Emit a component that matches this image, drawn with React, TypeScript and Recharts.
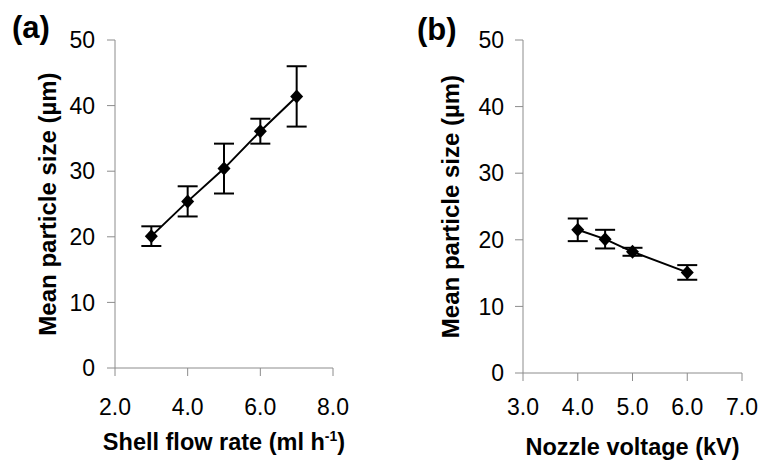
import { LineChart, Line, XAxis, YAxis, ErrorBar, Label } from "recharts";

const FONT = "'Liberation Sans', Arial, sans-serif";

// (a) shell flow rate
const flowRate = [3, 4, 5, 6, 7];
const flowSize = [20.1, 25.4, 30.4, 36.1, 41.4];
const flowErr = [1.5, 2.3, 3.8, 1.9, 4.6];
const flowTicks = [2, 4, 6, 8];

// (b) nozzle voltage
const voltage = [4.0, 4.5, 5.0, 6.0];
const voltSize = [21.5, 20.1, 18.2, 15.1];
const voltErr = [1.7, 1.4, 0.6, 1.1];
const voltTicks = [3, 4, 5, 6, 7];

const sizeTicks = [0, 10, 20, 30, 40, 50];

const flowData = flowRate.map((x, i) => ({ x, y: flowSize[i], err: flowErr[i] }));
const voltData = voltage.map((x, i) => ({ x, y: voltSize[i], err: voltErr[i] }));

const AXIS = "#8c8c8c";

function Diamond(props: any) {
  const { cx, cy, index } = props;
  if (cx == null || cy == null) return null;
  return (
    <path
      key={`d-${index}`}
      d={`M${cx},${cy - 7}L${cx + 6.5},${cy}L${cx},${cy + 7}L${cx - 6.5},${cy}Z`}
      fill="#000"
    />
  );
}

function XTitle({ viewBox, text, sup }: any) {
  const cx = viewBox.x + viewBox.width / 2;
  return (
    <text
      x={cx}
      y={viewBox.y + 82}
      textAnchor="middle"
      fontFamily={FONT}
      fontWeight="bold"
      fontSize={23.5}
      fill="#000"
    >
      {text}
      {sup && (
        <>
          <tspan dy={-9} fontSize={14}>{sup}</tspan>
          <tspan dy={9}>)</tspan>
        </>
      )}
    </text>
  );
}

function Panel({
  data,
  ticks,
  domain,
  margin,
  xMargin,
  yMargin,
  titleOffset,
  xText,
  xSup,
}: any) {
  return (
    <LineChart width={margin.w} height={464} data={data} margin={margin.m}>
      <XAxis
        type="number"
        dataKey="x"
        domain={domain}
        ticks={ticks}
        tickFormatter={(v: number) => v.toFixed(1)}
        height={60}
        tickSize={8}
        tickMargin={xMargin}
        axisLine={{ stroke: AXIS }}
        tickLine={{ stroke: AXIS }}
        tick={{ fill: "#000", fontSize: 23, fontFamily: FONT }}
      >
        <Label content={(p: any) => <XTitle viewBox={p.viewBox} text={xText} sup={xSup} />} />
      </XAxis>
      <YAxis
        type="number"
        domain={[0, 50]}
        ticks={sizeTicks}
        width={70}
        tickSize={8}
        tickMargin={yMargin}
        axisLine={{ stroke: AXIS }}
        tickLine={{ stroke: AXIS }}
        tick={{ fill: "#000", fontSize: 23, fontFamily: FONT }}
      >
        <Label
          value="Mean particle size (µm)"
          angle={-90}
          position="insideLeft"
          offset={titleOffset}
          style={{ textAnchor: "middle", fontFamily: FONT, fontWeight: "bold", fontSize: 24, fill: "#000" }}
        />
      </YAxis>
      <Line
        dataKey="y"
        stroke="#000"
        strokeWidth={2}
        dot={Diamond}
        activeDot={false}
        isAnimationActive={false}
      >
        <ErrorBar dataKey="err" direction="y" width={10} stroke="#000" strokeWidth={2} />
      </Line>
    </LineChart>
  );
}

export default function App() {
  return (
    <div style={{ position: "absolute", left: 0, top: 0, width: 762, height: 464, background: "#fff" }}>
      <div style={{ position: "absolute", left: 0, top: 0 }}>
        <Panel
          data={flowData}
          ticks={flowTicks}
          domain={[2, 8]}
          margin={{ w: 380, m: { top: 40, right: 47, bottom: 36, left: 45 } }}
          xMargin={23}
          yMargin={12}
          titleOffset={2}
          xText="Shell flow rate (ml h"
          xSup="-1"
        />
      </div>
      <div style={{ position: "absolute", left: 380, top: 0 }}>
        <Panel
          data={voltData}
          ticks={voltTicks}
          domain={[3, 7]}
          margin={{ w: 382, m: { top: 40, right: 20, bottom: 31, left: 73 } }}
          xMargin={18}
          yMargin={11}
          titleOffset={-3}
          xText="Nozzle voltage (kV)"
        />
      </div>
      <div
        style={{
          position: "absolute",
          left: 12,
          top: 12,
          fontFamily: FONT,
          fontWeight: "bold",
          fontSize: 31,
          lineHeight: 1,
        }}
      >
        (a)
      </div>
      <div
        style={{
          position: "absolute",
          left: 417,
          top: 14,
          fontFamily: FONT,
          fontWeight: "bold",
          fontSize: 31,
          lineHeight: 1,
        }}
      >
        (b)
      </div>
    </div>
  );
}
